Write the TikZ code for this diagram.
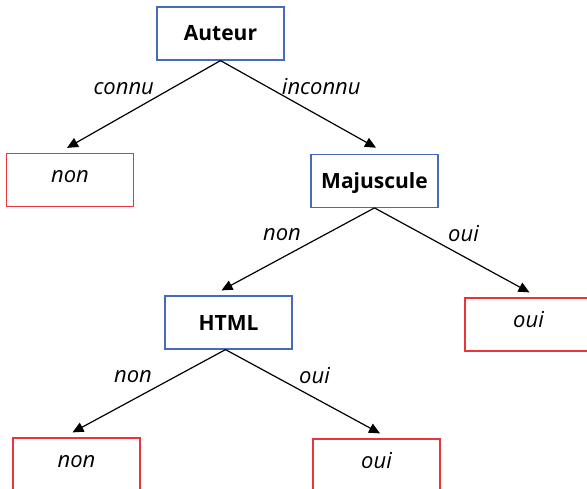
\documentclass[tikz,border=0pt]{standalone}
\usepackage{fontspec}
\setmainfont{Open Sans}
\usetikzlibrary{arrows.meta}
\definecolor{boxblue}{RGB}{72,106,190}
\definecolor{boxred}{RGB}{232,52,58}
\begin{document}
\begin{tikzpicture}[x=1bp,y=-1bp,
  testbox/.style={draw=boxblue, line width=1.2bp, minimum width=127bp, minimum height=53bp,
     inner sep=0pt, text height=15bp, text depth=0bp, font=\fontsize{21bp}{25bp}\selectfont\bfseries},
  leafbox/.style={draw=boxred, line width=1.2bp, minimum width=127bp, minimum height=53bp,
     inner sep=0pt, text height=12bp, text depth=6bp, font=\fontsize{22bp}{26bp}\selectfont\itshape},
  lab/.style={anchor=base, inner sep=0pt, font=\fontsize{22bp}{26bp}\selectfont\itshape},
  conn/.style={line width=1.2bp, -{Triangle[length=11bp,width=10bp]}}]
\useasboundingbox (0,0) rectangle (587,489);
\node[testbox] (auteur) at (220.5,33.5) {Auteur};
\node[leafbox] (non1) at (70,180) {non};
\node[testbox] (maj) at (374.5,180.8) {Majuscule};
\node[testbox] (html) at (228.5,322.5) {HTML};
\node[leafbox] (oui1) at (528.5,324.5) {oui};
\node[leafbox] (non2) at (76.5,464.5) {non};
\node[leafbox] (oui2) at (376.5,465.5) {oui};
\node[lab] (l1) at (123.7,94.5) {connu};
\node[lab] (l2) at (321.3,94.5) {inconnu};
\node[lab] (l3) at (282,240) {non};
\node[lab] (l4) at (463.5,241.5) {oui};
\node[lab] (l5) at (133,382.5) {non};
\node[lab] (l6) at (314.5,383.5) {oui};
\draw[conn] (auteur.south) -- ([xshift=-3bp,yshift=5bp]non1.north);
\draw[conn] (auteur.south) -- ([xshift=1.5bp,yshift=6bp]maj.north);
\draw[conn] (maj.south) -- ([xshift=-7bp,yshift=5bp]html.north);
\draw[conn] (maj.south) -- ([xshift=1bp,yshift=5bp]oui1.north);
\draw[conn] ([xshift=-3bp]html.south) -- ([xshift=-4bp,yshift=5bp]non2.north);
\draw[conn] ([xshift=-3bp]html.south) -- ([xshift=3.5bp,yshift=5bp]oui2.north);
\end{tikzpicture}
\end{document}
